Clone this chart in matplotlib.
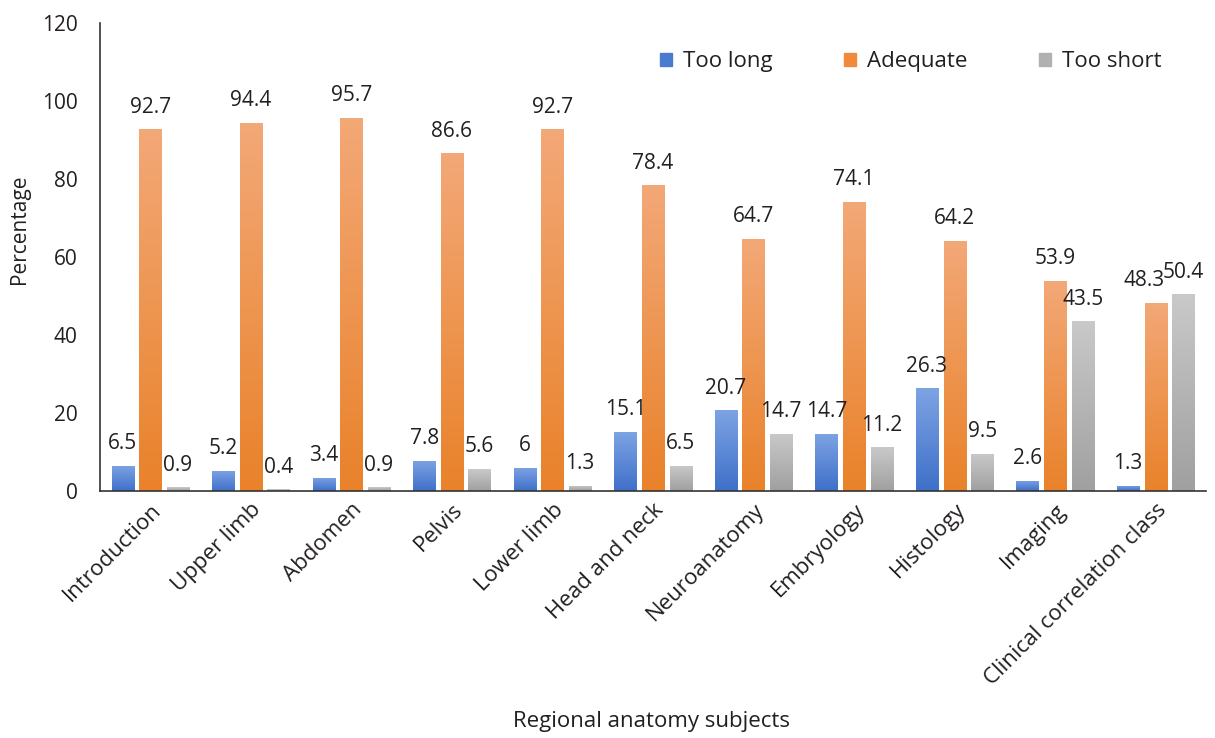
import numpy as np
import matplotlib.pyplot as plt
from matplotlib.colors import LinearSegmentedColormap

categories = ['Introduction', 'Upper limb', 'Abdomen', 'Pelvis', 'Lower limb',
              'Head and neck', 'Neuroanatomy', 'Embryology', 'Histology',
              'Imaging', 'Clinical correlation class']
too_long = [6.5, 5.2, 3.4, 7.8, 6, 15.1, 20.7, 14.7, 26.3, 2.6, 1.3]
adequate = [92.7, 94.4, 95.7, 86.6, 92.7, 78.4, 64.7, 74.1, 64.2, 53.9, 48.3]
too_short = [0.9, 0.4, 0.9, 5.6, 1.3, 6.5, 14.7, 11.2, 9.5, 43.5, 50.4]

series = [
    ('Too long', too_long, '#7da3e3', '#3f70c9', '#4a7bd0'),
    ('Adequate', adequate, '#f3a877', '#e9822a', '#f08a3a'),
    ('Too short', too_short, '#c9c9c9', '#a0a0a0', '#b0b0b0'),
]

plt.rcParams['font.family'] = ['Open Sans', 'DejaVu Sans']
txt = '#231f20'
fs = 15

fig = plt.figure(figsize=(12.15, 7.38), dpi=100)
ax = fig.add_axes([0.0823, 0.3347, 0.9103, 0.6341])

x = np.arange(len(categories))
width = 0.22
offsets = [-0.275, 0, 0.275]

for si, ((name, vals, top, bot, solid), off) in enumerate(zip(series, offsets)):
    cmap = LinearSegmentedColormap.from_list(name, [bot, top])
    bars = ax.bar(x + off, vals, width, color=solid, label=name, zorder=2)
    for i, (b, v) in enumerate(zip(bars, vals)):
        b.set_facecolor('none')
        grad = np.linspace(0, 1, 100).reshape(-1, 1)
        im = ax.imshow(grad, cmap=cmap, aspect='auto', origin='lower',
                       extent=[b.get_x(), b.get_x() + b.get_width(), 0, max(v, 0.01)],
                       zorder=2)
        im.set_clip_path(b)
        cx = b.get_x() + b.get_width() / 2
        # nudge the crowded label in the last group, as in the source chart
        if si == 1 and i == len(categories) - 1:
            cx -= 0.12
        ax.text(cx, v + 3.0, f'{v:g}', ha='center', va='bottom',
                fontsize=fs, color=txt)

ax.set_xlim(-0.5, len(categories) - 0.5)
ax.set_ylim(0, 120)
ax.set_yticks(range(0, 121, 20))
ax.set_xticks(x)
ax.set_xticklabels(categories, rotation=45, ha='right', rotation_mode='anchor',
                   fontsize=fs + 1, color=txt)
ax.tick_params(axis='both', length=0, labelsize=fs, colors=txt)
ax.tick_params(axis='x', labelsize=fs + 1)
ax.tick_params(axis='y', pad=16)
ax.tick_params(axis='x', pad=6)
for s in ['top', 'right']:
    ax.spines[s].set_visible(False)
for s in ['left', 'bottom']:
    ax.spines[s].set_color('#333333')
    ax.spines[s].set_linewidth(1.2)

ax.set_ylabel('Percentage', fontsize=fs, color=txt)
ax.yaxis.set_label_coords(-0.063, 0.56)
fig.text(0.536, 0.008, 'Regional anatomy subjects', ha='center', va='bottom',
         fontsize=fs + 1, color=txt)

handles = [plt.Rectangle((0, 0), 1, 1, color=s[4]) for s in series]
ax.legend(handles, [s[0] for s in series], ncol=3, loc='upper right',
          bbox_to_anchor=(0.978, 0.982), frameon=False, fontsize=fs + 1,
          handlelength=0.55, handleheight=0.55, handletextpad=0.5,
          columnspacing=3.2, labelcolor=txt)

fig.savefig('out.png', dpi=100)
